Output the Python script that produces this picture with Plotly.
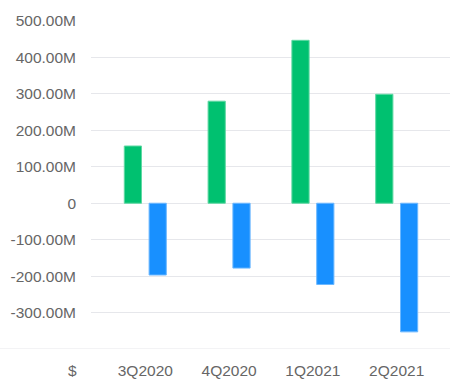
import plotly.graph_objects as go

categories = ["3Q2020", "4Q2020", "1Q2021", "2Q2021"]
income = [157e6, 280e6, 447e6, 299e6]
expense = [-197e6, -178e6, -223e6, -353e6]
tick_vals = [-300e6, -200e6, -100e6, 0, 100e6, 200e6, 300e6, 400e6, 500e6]
tick_text = ["-300.00M", "-200.00M", "-100.00M", "0", "100.00M", "200.00M",
             "300.00M", "400.00M", "500.00M"]
y_bottom = -400e6
currency_label = "$"

GREEN = "#00C170"
BLUE = "#1890FF"
TEXT = "#666666"
GRID = "#e6e7eb"
FONT = "Liberation Sans, Arial, sans-serif"

fig = go.Figure()
fig.add_trace(go.Bar(x=categories, y=income, marker=dict(color=GREEN, line=dict(color="#5fd8a3", width=1)),
                     showlegend=False, hoverinfo="skip"))
fig.add_trace(go.Bar(x=categories, y=expense, marker=dict(color=BLUE, line=dict(color="#6cb8ff", width=1)),
                     showlegend=False, hoverinfo="skip"))

fig.update_layout(
    width=450, height=382,
    margin=dict(l=91, r=0, t=21, b=33),
    paper_bgcolor="white", plot_bgcolor="white",
    barmode="group", bargap=0.408, bargroupgap=0.306,
    font=dict(family=FONT, size=15.5, color=TEXT),
    xaxis=dict(type="category", range=[-0.648, 3.636], showgrid=False, zeroline=False,
               showline=False, ticks="", ticklabelstandoff=10, fixedrange=True),
    yaxis=dict(range=[y_bottom, 500e6], tickvals=tick_vals, ticktext=tick_text,
               showgrid=True, gridcolor=GRID, gridwidth=1, zeroline=False,
               showline=False, ticks="", ticklabelstandoff=14, fixedrange=True),
    shapes=[dict(type="line", xref="paper", yref="y", x0=-91/359, x1=1,
                 y0=y_bottom, y1=y_bottom, line=dict(color=GRID, width=1))],
    annotations=[dict(text=currency_label, xref="paper", yref="paper", x=(72 - 91)/359, y=0,
                      xanchor="center", yanchor="top", yshift=-11, showarrow=False,
                      font=dict(family=FONT, size=15.5, color=TEXT))],
)

fig.write_html("out.html", config={"displayModeBar": False},
               post_script="document.body.style.margin='0';document.body.style.padding='0';")
